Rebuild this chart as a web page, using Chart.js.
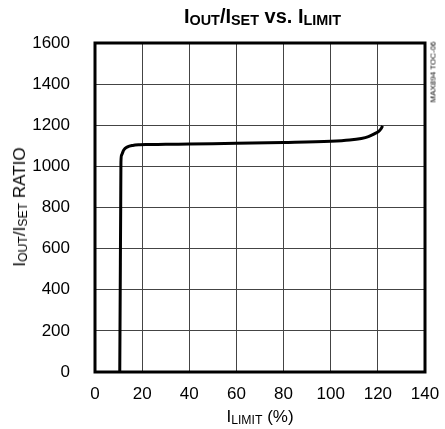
<!DOCTYPE html>
<html>
<head>
<meta charset="utf-8">
<script src="https://cdn.jsdelivr.net/npm/chart.js@4"></script>
<style>
    body { margin: 0; background: #fff; }
    #wrap { position: relative; width: 445px; height: 429px; font-family: 'Liberation Sans Narrow', 'Liberation Sans', Arial, sans-serif; }
    .lbl { position: absolute; white-space: nowrap; color: #000; }
    .lbl sub { font-size: 72%; vertical-align: -0.15em; }
    #title { top: 5px; left: 0; width: 525px; text-align: center; font-weight: bold; font-size: 20px; }
    #xtitle { top: 407px; left: 0; width: 520px; text-align: center; font-size: 17px; }
    #ytitle { top: 207px; left: 20px; font-size: 17px; transform: translate(-50%, -50%) rotate(-90deg); }
    #code { top: 72px; left: 433px; font-size: 8px; transform: translate(-50%, -50%) rotate(-90deg); }
</style>
</head>
<body>
<div id="wrap">
    <canvas id="chart" width="445" height="429"></canvas>
    <div class="lbl" id="title">I<sub>OUT</sub>/I<sub>SET</sub> vs. I<sub>LIMIT</sub></div>
    <div class="lbl" id="xtitle">I<sub>LIMIT</sub> (%)</div>
    <div class="lbl" id="ytitle">I<sub>OUT</sub>/I<sub>SET</sub> RATIO</div>
    <div class="lbl" id="code">MAX894 TOC-06</div>
</div>
<script>
// valori
const limitPct = [10.5, 10.7, 10.9, 11.0, 11.3, 12.2, 13.8, 16, 19, 22, 30, 40, 60, 80, 100, 108, 113, 116, 118.5, 120.5, 121.5, 122];
const ratio = [0, 400, 800, 1020, 1055, 1080, 1095, 1102, 1105, 1106, 1107, 1109, 1112, 1116, 1122, 1128, 1136, 1145, 1158, 1172, 1185, 1197];

const xTicks = [0, 20, 40, 60, 80, 100, 120, 140];
const yTicks = [0, 200, 400, 600, 800, 1000, 1200, 1400, 1600];

// bordo spesso attorno all'area del grafico
const frame = {
    id: 'frame',
    afterDatasetsDraw(chart) {
        const { ctx, chartArea: a } = chart;
        ctx.save();
        ctx.strokeStyle = '#000';
        ctx.lineWidth = 3;
        ctx.strokeRect(a.left, a.top, a.right - a.left, a.bottom - a.top);
        ctx.restore();
    }
};

const renderChart = () => {

    const data = {
        datasets: [{
            data: limitPct.map((x, i) => ({ x, y: ratio[i] })),
            borderColor: '#000',
            borderWidth: 3,
            pointRadius: 0,
            cubicInterpolationMode: 'monotone',
            fill: false
        }]
    }

    const tickFont = { family: "'Liberation Sans Narrow', 'Liberation Sans', Arial, sans-serif", size: 17 };

    const options = {
        responsive: false,
        animation: false,
        layout: { padding: { top: 43, right: 20, left: 0, bottom: 0 } },
        plugins: {
            legend: { display: false },
            tooltip: { enabled: false }
        },
        scales: {
            x: {
                type: 'linear',
                min: 0,
                max: 140,
                afterBuildTicks: s => { s.ticks = xTicks.map(v => ({ value: v })); },
                afterFit: s => { s.height = 57; s.paddingLeft = 0; s.paddingRight = 0; },
                ticks: { color: '#000', font: tickFont, padding: 12, maxRotation: 0, callback: v => String(v) },
                grid: { color: '#444', lineWidth: 1, drawTicks: false },
                border: { display: false }
            },
            y: {
                min: 0,
                max: 1600,
                afterBuildTicks: s => { s.ticks = yTicks.map(v => ({ value: v })); },
                afterFit: s => { s.width = 95; s.paddingTop = 0; s.paddingBottom = 0; },
                ticks: { color: '#000', font: tickFont, padding: 25, callback: v => String(v) },
                grid: { color: '#444', lineWidth: 1, drawTicks: false },
                border: { display: false }
            }
        }
    }

    new Chart('chart', { type: 'line', data, options, plugins: [frame] })
}

renderChart();
</script>
</body>
</html>
